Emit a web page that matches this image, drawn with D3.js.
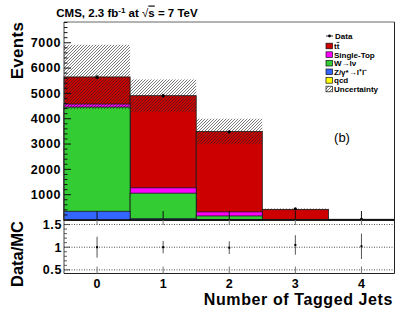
<!DOCTYPE html>
<html>
<head>
<meta charset="utf-8">
<script src="https://cdn.jsdelivr.net/npm/d3@7"></script>
<style>
body { margin: 0; background: #fff; }
svg { display: block; font-family: "Liberation Sans", Arial, Helvetica, sans-serif; }
</style>
</head>
<body>
<svg id="chart" width="407" height="315"></svg>
<script>
var tagged_jets = [0, 1, 2, 3, 4];
var x_tick_labels = ["0", "1", "2", "3", "4"];
var data_counts = [5640, 4910, 3480, 441, 30];
var qcd_counts = [0, 0, 0, 0, 0];
var zgamma_counts = [345, 50, 20, 0, 0];
var wlnu_counts = [4115, 1010, 140, 5, 1];
var single_top_counts = [120, 210, 160, 10, 1];
var ttbar_counts = [1070, 3640, 3180, 405, 27];
var mc_uncertainty = [1270, 640, 500, 35, 5];
var ratio_values = [1.0, 1.0, 0.99, 1.05, 1.02];
var ratio_errors = [0.23, 0.135, 0.14, 0.215, 0.28];
var events_ticks = [1000, 2000, 3000, 4000, 5000, 6000, 7000];
var ratio_ticks = [0.5, 1, 1.5];
var ratio_tick_labels = ["0.5", "1", "1.5"];

// bottom to top, the order ROOT stacks them
var samples = [
    {name: "qcd", counts: qcd_counts, color: "#ffff00"},
    {name: "zgamma", counts: zgamma_counts, color: "#3366ff"},
    {name: "wlnu", counts: wlnu_counts, color: "#33cc33"},
    {name: "single_top", counts: single_top_counts, color: "#ff00ff"},
    {name: "ttbar", counts: ttbar_counts, color: "#cc0000"}
];

var svg = d3.select("#chart");
var frame = {left: 64, right: 394.5, top: 22, bottom: 220, ratio_bottom: 273.5};

var x = d3.scaleLinear().domain([-0.5, 4.5]).range([frame.left, frame.right]);
var y = d3.scaleLinear().domain([0, 7820]).range([frame.bottom, frame.top]);
var y_ratio = d3.scaleLinear().domain([0.42, 1.6]).range([frame.ratio_bottom, frame.bottom]);

svg.append("rect").attr("width", 407).attr("height", 315).attr("fill", "#fff");

var defs = svg.append("defs");
defs.append("pattern").
    attr("id", "hatch").
    attr("patternUnits", "userSpaceOnUse").
    attr("width", 3).
    attr("height", 3).
    append("path").
    attr("d", "M-1,1 L1,-1 M0,3 L3,0 M2,4 L4,2").
    attr("stroke", "#222").
    attr("stroke-width", 0.6);

// cumulative stack, largest drawn first like THStack does
var cumulative = [];
var running = tagged_jets.map(function() { return 0; });
for (var s = 0; s < samples.length; s++)
{
    running = running.map(function(v, i) { return v + samples[s].counts[i]; });
    cumulative.push({color: samples[s].color, tops: running.slice()});
}
var total_mc = cumulative[cumulative.length - 1].tops;

var stack_group = svg.append("g");
for (var s = cumulative.length - 1; s >= 0; s--)
{
    stack_group.selectAll(null).
        data(tagged_jets.filter(function(d, i) { return cumulative[s].tops[i] > 0 && samples[s].counts[i] > 0; })).
        enter().append("rect").
        attr("x", function(d) { return x(d - 0.5); }).
        attr("width", function(d) { return x(d + 0.5) - x(d - 0.5); }).
        attr("y", function(d) { return y(cumulative[s].tops[d]); }).
        attr("height", function(d) { return y(0) - y(cumulative[s].tops[d]); }).
        attr("fill", cumulative[s].color).
        attr("stroke", "#1a1a1a").
        attr("stroke-width", 0.8);
}

svg.append("g").selectAll("rect").data(tagged_jets).enter().append("rect").
    attr("x", function(d) { return x(d - 0.5); }).
    attr("width", function(d) { return x(d + 0.5) - x(d - 0.5); }).
    attr("y", function(d, i) { return y(total_mc[i] + mc_uncertainty[i]); }).
    attr("height", function(d, i) { return y(total_mc[i] - mc_uncertainty[i]) - y(total_mc[i] + mc_uncertainty[i]); }).
    attr("fill", "url(#hatch)");

// data points
var data_group = svg.append("g");
data_group.selectAll("line").data(tagged_jets).enter().append("line").
    attr("x1", function(d) { return x(d); }).
    attr("x2", function(d) { return x(d); }).
    attr("y1", function(d, i) { return y(data_counts[i] + Math.sqrt(data_counts[i])); }).
    attr("y2", function(d, i) { return y(Math.max(0, data_counts[i] - Math.sqrt(data_counts[i]))); }).
    attr("stroke", "#000").
    attr("stroke-width", 1);
data_group.selectAll("circle").data(tagged_jets).enter().append("circle").
    attr("cx", function(d) { return x(d); }).
    attr("cy", function(d, i) { return y(data_counts[i]); }).
    attr("r", 1.6).
    attr("fill", "#000");

// main frame and ticks
svg.append("line").attr("x1", frame.left).attr("x2", frame.right).attr("y1", frame.top).attr("y2", frame.top).
    attr("stroke", "#666").attr("stroke-width", 1);
svg.append("line").attr("x1", frame.right).attr("x2", frame.right).attr("y1", frame.top).attr("y2", frame.ratio_bottom).
    attr("stroke", "#222").attr("stroke-width", 1);
svg.append("line").attr("x1", frame.left).attr("x2", frame.left).attr("y1", frame.top).attr("y2", frame.ratio_bottom).
    attr("stroke", "#444").attr("stroke-width", 1);
svg.append("line").attr("x1", frame.left).attr("x2", frame.right).attr("y1", frame.bottom).attr("y2", frame.bottom).
    attr("stroke", "#111").attr("stroke-width", 1.3);
svg.append("line").attr("x1", frame.left).attr("x2", frame.right).attr("y1", frame.ratio_bottom).attr("y2", frame.ratio_bottom).
    attr("stroke", "#222").attr("stroke-width", 1);

var y_axis = svg.append("g").attr("transform", "translate(" + frame.left + ",0)");
y_axis.selectAll("line.minor").data(d3.range(200, 7801, 200)).enter().append("line").
    attr("x1", 0).
    attr("x2", function(d) { return d % 1000 == 0 ? 7 : 3.5; }).
    attr("y1", function(d) { return y(d); }).
    attr("y2", function(d) { return y(d); }).
    attr("stroke", "#111").
    attr("stroke-width", 1);
y_axis.selectAll("text").data(events_ticks).enter().append("text").
    attr("x", -3).
    attr("y", function(d) { return y(d) + 4.3; }).
    attr("text-anchor", "end").
    attr("font-size", 12.5).
    attr("font-weight", "bold").
    attr("letter-spacing", 0.6).
    text(function(d) { return d; });

svg.append("g").selectAll("line").data(tagged_jets).enter().append("line").
    attr("x1", function(d) { return x(d); }).
    attr("x2", function(d) { return x(d); }).
    attr("y1", frame.bottom).
    attr("y2", frame.bottom - 9).
    attr("stroke", "#111").
    attr("stroke-width", 1);

// ratio pad
var ratio_group = svg.append("g");
ratio_group.selectAll("line.grid").data(ratio_ticks).enter().append("line").
    attr("x1", frame.left).
    attr("x2", frame.right).
    attr("y1", function(d) { return y_ratio(d); }).
    attr("y2", function(d) { return y_ratio(d); }).
    attr("stroke", "#222").
    attr("stroke-width", 0.8).
    attr("stroke-dasharray", "1,1.5");
ratio_group.selectAll("line.ytick").data(d3.range(0.5, 1.61, 0.1)).enter().append("line").
    attr("x1", frame.left).
    attr("x2", function(d, i) { return frame.left + (i % 5 == 0 ? 6 : 3); }).
    attr("y1", function(d) { return y_ratio(d); }).
    attr("y2", function(d) { return y_ratio(d); }).
    attr("stroke", "#333").
    attr("stroke-width", 0.8);
ratio_group.selectAll("line.xtick").data(tagged_jets).enter().append("line").
    attr("x1", function(d) { return x(d); }).
    attr("x2", function(d) { return x(d); }).
    attr("y1", frame.ratio_bottom).
    attr("y2", frame.ratio_bottom - 7).
    attr("stroke", "#777").
    attr("stroke-width", 1);
ratio_group.selectAll("line.xtop").data(tagged_jets).enter().append("line").
    attr("x1", function(d) { return x(d); }).
    attr("x2", function(d) { return x(d); }).
    attr("y1", frame.bottom).
    attr("y2", frame.bottom + 5).
    attr("stroke", "#777").
    attr("stroke-width", 1);
ratio_group.selectAll("line.err").data(tagged_jets).enter().append("line").
    attr("x1", function(d) { return x(d); }).
    attr("x2", function(d) { return x(d); }).
    attr("y1", function(d, i) { return y_ratio(ratio_values[i] + ratio_errors[i]); }).
    attr("y2", function(d, i) { return y_ratio(ratio_values[i] - ratio_errors[i]); }).
    attr("stroke", "#555").
    attr("stroke-width", 1);
ratio_group.selectAll("rect.pt").data(tagged_jets).enter().append("rect").
    attr("x", function(d) { return x(d) - 1; }).
    attr("y", function(d, i) { return y_ratio(ratio_values[i]) - 1; }).
    attr("width", 2).
    attr("height", 2).
    attr("fill", "#000");
ratio_group.selectAll("text").data(ratio_ticks).enter().append("text").
    attr("x", frame.left - 2).
    attr("y", function(d) { return y_ratio(d) + 4.5; }).
    attr("text-anchor", "end").
    attr("font-size", 12.5).
    attr("font-weight", "bold").
    attr("letter-spacing", 0.6).
    text(function(d, i) { return ratio_tick_labels[i]; });

svg.append("g").selectAll("text").data(tagged_jets).enter().append("text").
    attr("x", function(d) { return x(d); }).
    attr("y", 288).
    attr("text-anchor", "middle").
    attr("font-size", 12.5).
    attr("font-weight", "bold").
    text(function(d, i) { return x_tick_labels[i]; });

// titles
svg.append("text").
    attr("x", 393).
    attr("y", 305).
    attr("text-anchor", "end").
    attr("font-size", 16).
    attr("font-weight", "bold").
    attr("letter-spacing", 0.6).
    text("Number of Tagged Jets");
svg.append("text").
    attr("transform", "translate(23,50.5) rotate(-90)").
    attr("text-anchor", "middle").
    attr("font-size", 17).
    attr("font-weight", "bold").
    attr("letter-spacing", 0.3).
    text("Events");
svg.append("text").
    attr("transform", "translate(23,254) rotate(-90)").
    attr("text-anchor", "middle").
    attr("font-size", 16.5).
    attr("font-weight", "bold").
    text("Data/MC");

var title = svg.append("text").
    attr("x", 127).
    attr("y", 16.5).
    attr("text-anchor", "middle").
    attr("font-size", 11.5).
    attr("font-weight", "bold");
title.append("tspan").text("CMS, 2.3 fb");
title.append("tspan").attr("dy", -4).attr("font-size", 8).text("-1");
title.append("tspan").attr("dy", 4).text(" at ");
title.append("tspan").attr("font-weight", "normal").text("\u221A");
title.append("tspan").attr("text-decoration", "overline").text("s");
title.append("tspan").text(" = 7 TeV");

svg.append("text").
    attr("x", 342).
    attr("y", 141.5).
    attr("text-anchor", "middle").
    attr("font-size", 13).
    text("(b)");

// legend
var legend_rows = [
    {label: ["t", "t"], color: "#cc0000"},
    {label: ["Single-Top"], color: "#ff00ff"},
    {label: ["W\u2192l\u03BD"], color: "#33cc33"},
    {label: ["Z/\u03B3*\u2192l\u207Al\u207B"], color: "#3366ff"},
    {label: ["qcd"], color: "#ffff00"},
    {label: ["Uncertainty"], color: "url(#hatch)"}
];
var legend = svg.append("g").attr("font-size", 8).attr("font-weight", "bold");
var legend_x = 326;
legend.append("line").attr("x1", legend_x).attr("x2", legend_x + 7).attr("y1", 36).attr("y2", 36).
    attr("stroke", "#000").attr("stroke-width", 0.8);
legend.append("circle").attr("cx", legend_x + 3.5).attr("cy", 36).attr("r", 1.4).attr("fill", "#000");
legend.append("text").attr("x", legend_x + 9).attr("y", 38.8).text("Data");
var rows = legend.selectAll("g.row").data(legend_rows).enter().append("g").
    attr("transform", function(d, i) { return "translate(" + legend_x + "," + (46 + i * 8.6) + ")"; });
rows.append("rect").
    attr("x", 0).attr("y", -2.8).attr("width", 6.5).attr("height", 5.6).
    attr("fill", function(d) { return d.color; }).
    attr("stroke", "#111").
    attr("stroke-width", 0.7);
var row_text = rows.append("text").attr("x", 8).attr("y", 2.9);
row_text.selectAll("tspan").data(function(d) { return d.label; }).enter().append("tspan").
    attr("text-decoration", function(d, i) { return i == 1 ? "overline" : null; }).
    text(function(d) { return d; });
</script>
</body>
</html>
